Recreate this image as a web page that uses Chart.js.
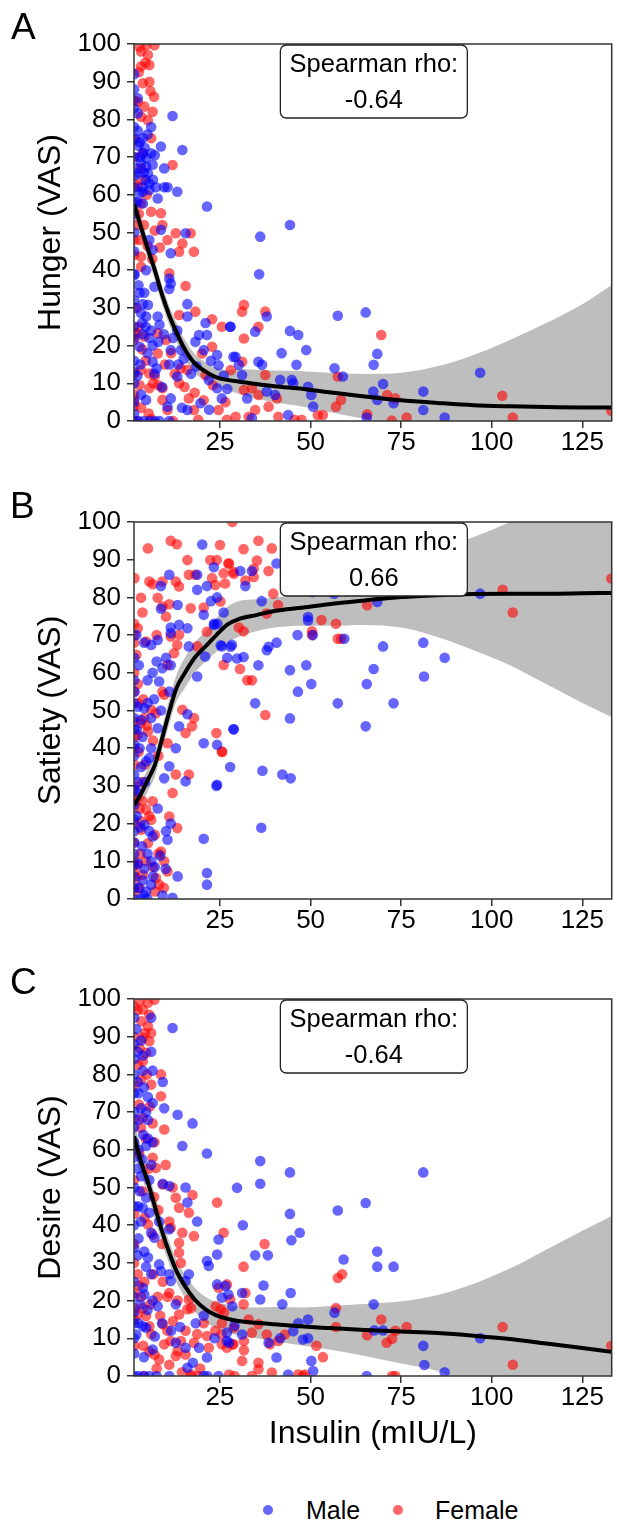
<!DOCTYPE html>
<html>
<head>
<meta charset="utf-8">
<script src="https://cdn.jsdelivr.net/npm/chart.js@4.4.1/dist/chart.umd.min.js"></script>
<style>
  body { margin: 0; background: #fff; font-family: "Liberation Sans", Arial, sans-serif; }
  #page { position: relative; width: 617px; height: 1523px; overflow: hidden; background: #fff; }
  canvas { position: absolute; left: 0; }
  .tag { position: absolute; font-size: 37px; line-height: 37px; color: #000; }
  .dot { position: absolute; width: 10px; height: 10px; border-radius: 50%; top: 1505px; }
  .lab { position: absolute; font-size: 25px; line-height: 30px; top: 1495px; color: #000; }
</style>
</head>
<body>
<div id="page">
  <canvas id="chartA" width="617" height="478" style="top:0px"></canvas>
  <canvas id="chartB" width="617" height="478" style="top:478px"></canvas>
  <canvas id="chartC" width="617" height="500" style="top:955px"></canvas>
  <div class="tag" style="left:11px;top:8px">A</div>
  <div class="tag" style="left:10px;top:487px">B</div>
  <div class="tag" style="left:10px;top:963px">C</div>
  <span class="dot" style="left:263px;background:rgba(0,0,255,0.6)"></span>
  <span class="lab" style="left:306px">Male</span>
  <span class="dot" style="left:393px;background:rgba(255,0,0,0.6)"></span>
  <span class="lab" style="left:435px">Female</span>
</div>
<script>
// x axis (insulin, mIU/L)
const insulinMin = 1.26;
const insulinMax = 133.1;
const insulinTicks = [25, 50, 75, 100, 125];

// points: [insulin, VAS]
const hungerMale = [
  [1.3,92],[1.3,88],[2.3,85.6],[11.9,80.9],[2.3,81.6],[6,78],[3.7,75],[2.3,77],[8.7,72.8],[14.6,71.9],
  [3.7,71],[4.6,69.8],[3.2,68.4],[6.4,68],[4.6,67.5],[9.6,67],[5.1,65.7],[2.3,65.7],[7.3,62],[9.6,62],
  [10.5,62],[13.2,60.8],[3.7,60.8],[5.5,61.3],[2.8,60.4],[7.8,59],[21.4,56.9],[3.7,57.7],[15.5,49.8],[8.7,50.7],
  [5.5,48],[6.4,45.4],[11.4,44.5],[4.6,40],[1.4,38.7],[11,37.8],[11.4,36.5],[11,35],[2.8,34],[4.1,34],
  [3.7,31],[5.1,30.8],[6.9,35.6],[3.2,28.6],[4.6,27.7],[16,31],[16,27.7],[7.8,27.7],[8.3,25.5],[21,26],
  [21.4,22.8],[19.2,22.8],[27.8,25],[13.2,24],[18.2,21],[3.7,23],[5.5,22],[6.4,20],[2.8,19.7],[11.4,18.8],
  [14.2,18.8],[20.5,18.8],[24.2,17.5],[24.6,14.8],[28.7,17],[6.4,15.7],[6.9,12.6],[11,15],[13.2,11.8],[21.9,10.9],
  [24.2,8.7],[25.5,6],[19.6,4.7],[16,2.9],[11.4,6],[10.5,3.8],[3.2,7],[4.6,5.6],[1.3,0],[2.5,0],
  [4,0],[5.5,0],[7,0],[8.3,0],[11,0],[1.3,70],[1.3,62],[1.3,55],[1.3,45],[1.3,30],[1.3,10],
  [1.3,83],[1.3,78],[1.3,75],[1.3,65],[1.3,58],[1.3,50],[1.3,39],[1.3,32],[1.3,25],[1.3,22],
  [1.3,16],[1.3,13],[1.3,5],[1.3,2],
  [2.5,73],[3,70],[4,66],[4.5,64],[5.5,63],[6.5,64],[2,67],[3.5,62],[2.2,58],[6,71],
  [7,70.5],[4.2,72.5],[2.8,74],[5,76],[2.5,36],[3.5,26],[4.5,25],[6,24],[5,18],[7.5,14],
  [3,15],[2.2,12],[8,21],[9.5,23],[12,22],[13.5,15],[15,16.5],[17,12.5],[18.5,14.5],[22.5,16],
  [26,12],[27,8.5],[22,3],[14.5,3.5],[9,9],
  [44.3,52],[36.1,48.9],[35.8,38.9],[57.5,27.9],[27.9,25],[37.9,27.7],[34.7,23.7],[44.3,23.9],[46.6,22.8],[48.8,18.8],
  [42,18],[29.3,17],[30.2,14.9],[35.6,15.7],[36.6,14.9],[46.1,14.9],[56.6,14],[58.9,11.8],[31.1,12.2],[41.6,10.9],
  [44.8,10.9],[45.2,10],[49.3,9.1],[50.2,6.9],[50.7,3.8],[37.9,7.8],[40.2,6.9],[32.5,6],[43.8,1.6],[33.8,0.7],
  [65.2,28.8],[68.4,17.8],[67.4,14.9],[70,9.8],[67.3,7.8],[68.4,5.6],[72.9,4.7],[81.1,7.8],[81.1,2.9],[87,0.9],
  [96.8,12.8],[65.5,0.9]
];
const hungerFemale = [
  [2.8,99.3],[4.6,99.7],[6.9,99.7],[3.2,98],[5.1,97.1],[3.2,94],[5.5,94.4],[3.7,89.6],[5.5,90],[2.3,84.7],
  [4.1,83.4],[6.4,82],[5.1,79.8],[3.2,80.7],[6,75],[11.9,67.9],[3.7,71],[3.2,67],[3.7,63.9],[2.3,62.2],
  [3.2,57.7],[6,55.5],[8.7,55.1],[9.1,52],[12.8,49.8],[16.9,49.8],[10.5,48],[14.6,47.1],[13.7,44.9],[17.8,44.9],
  [2.8,48],[3.2,43.6],[3.2,40.9],[11,39.2],[15.5,35.8],[18.2,29],[22.8,27],[25.5,25],[13.7,28.1],[1.9,23.3],
  [4.1,22.4],[7.8,23.3],[10.1,21.5],[7.8,17.9],[3.2,13.5],[5.5,12.6],[9.1,8.7],[5.5,8.7],[2.8,9.5],[16,13.5],
  [13.7,10],[20,17.9],[21,12.2],[24.6,2.9],[9.1,5.6],[10.5,2.9],[16.4,6],[17.8,2.9],[14.2,14],[22.8,19.7],
  [2,0],[6,0.5],[12,0],[19,0.3],[26.9,0.3],[1.3,74.5],[1.3,63],[1.3,48],[1.3,21.5],[1.3,12.6],[1.3,5.6],
  [1.3,85],[1.3,70],[1.3,44],[1.3,23],[1.3,7],[1.3,4],
  [2,30],[2.5,25],[3.5,19],[4.5,16],[6.5,10],[8,9.5],[3.2,3.5],[5.3,2],[7,12],[9.8,15],
  [12.5,12.5],[15.2,9],[18,7.5],[20.5,5.5],[23,9.5],[26.5,5],[28,13.5],[11.5,18],[4,52],[5,46.5],
  [6.3,43],[2,52],[2.6,55],[7,50.5],[8.4,46],[4.8,60],[6.8,86],[2.6,92.5],[4.4,95],[5.8,87.5],
  [31.6,30.8],[31.1,29],[37.5,29],[35.6,25],[31.6,21.9],[31.1,15.7],[37.5,12.2],[57.5,11.8],[31.6,8.2],[33.8,8.7],
  [35.6,6.9],[40.7,6],[38.4,3.8],[34.7,2.9],[32.9,1.1],[29.3,1.1],[41.1,1.1],[45.6,0.3],[47.5,0.3],[52,1.6],
  [53.4,1.6],[57,3.8],[58.4,5.6],[69.5,22.8],[71.1,6.9],[73.4,6],[65.6,1.8],[72.4,0.1],[76.5,0.9],[102.9,6.7],
  [105.8,0.9],[133,2.7]
];

const satietyMale = [
  [20.1,94],[11,86],[18.7,86],[23.3,88],[21.4,83],[18.7,82],[24.2,80],[8.7,83],[13.3,78],[8.7,77],
  [11.4,72],[13.7,72.7],[16,71.8],[11.4,70.5],[1.9,70],[4.1,68],[6,67.4],[7.8,68.7],[20.5,75.4],[23.3,72.7],
  [26,76],[28.3,67.4],[25.5,67],[16.4,67],[20.9,64.3],[10.1,64],[11.4,62],[9.1,61.2],[6.4,60],[8.2,57.7],
  [18.7,59],[1.4,55],[11,55],[2.3,51],[4.1,50.6],[3.2,47.5],[6,48],[8.7,50],[7.8,45.3],[16,49],
  [13.7,45.8],[28.7,45],[1.4,41],[6,40],[5.5,37.4],[4.6,36.5],[12.8,40],[20.5,41.3],[24.2,40.9],[27.8,35],
  [11,35.2],[9.6,32],[15.5,31.2],[24.2,30.3],[2.3,31],[1.9,28.5],[7.8,24],[11.4,20],[10.1,18],[10.5,15.7],
  [5.5,18],[6.4,16.6],[4.1,19.7],[20.5,16],[13.3,6],[21.4,6.9],[21.4,3.8],[3.7,5],[6,3.8],[4.6,2],
  [9.1,1],[11.9,0.3],[2.3,9.5],[4.1,8],[1.3,0],[3,0],[5,0],[1.3,64],[1.3,58],[1.3,45],
  [1.3,38],[1.3,25],[1.3,18],[1.3,12],[1.3,6],[1.3,52],[1.3,48],[1.3,33],[1.3,29],[1.3,21],
  [1.3,15],[1.3,9],[1.3,3],
  [2,22],[3,19],[3.5,14],[5,12],[6,10],[7,8.5],[2.5,3],[4,1],[6.5,6],[8.5,11.5],
  [10,8],[2,45],[2.8,40],[3.6,43],[5,52],[6.8,53],[4.3,31],[3.2,35],[7.5,63],[5,58],
  [2.6,62],
  [30.6,87],[32,83],[22.5,79],[33.8,87],[36.5,79],[23.4,73],[24.3,73],[25.2,67.3],[27.9,66.9],[29.7,63.8],
  [31.5,64.2],[27,64],[35.6,62],[37.9,66],[38.4,66.9],[40.6,68],[34.7,51.9],[28.8,45],[36.7,34],[42.2,33],
  [44.5,32],[24,30],[36.4,18.9],[44.3,60.7],[46.5,55],[44.3,47.9],[46.4,70],[40.6,89],
  [50.6,81.4],[56.5,81],[49.3,74.8],[49.3,73.9],[50.6,70],[59.3,69],[68.4,78.8],[48.8,62],[50.2,57],[67.4,61],
  [65.5,57],[70,67],[81.1,68],[81.3,59],[87,64],[57.5,51.9],[72.9,51.9],[65.2,45.8],[96.8,81]
];
const satietyFemale = [
  [5.1,93],[11.4,95],[13.1,94.1],[16,89.9],[25,93.9],[22.3,89.9],[24.1,89.9],[27.3,89],[1.4,85.1],[5.5,84.2],
  [6.4,83.5],[9.1,84.2],[12.8,84.2],[13.7,82.9],[16.4,86],[18.2,86],[3.2,79.9],[7.8,79.9],[11,78.2],[9.1,77.6],
  [10.1,74.9],[16.9,77.1],[20.5,77.3],[22.8,85.1],[23.7,83.3],[26,86.4],[28.7,86.8],[26.4,83.7],[25.1,78.9],[2.3,71.8],
  [4.6,68.3],[1.9,64.8],[11.4,69.6],[13.7,70.1],[13.2,67.4],[12.3,65.2],[18.7,67],[21.4,70.9],[26,62.1],[10.5,62.1],
  [9.1,55],[9.6,54.2],[2.3,51.9],[6,50.2],[7.3,49.3],[4.1,48],[14.6,50.2],[17.8,48],[17.3,45.8],[15.5,44],
  [3.2,46.6],[5.1,44.4],[2.3,43.6],[10.5,41.3],[24,44],[25.5,39.1],[4.1,35.6],[1.4,35.6],[12.8,33],[16.4,33],
  [11.9,28.1],[6.4,25.9],[4.6,23.7],[11,21.9],[13.2,18.8],[3.2,20.6],[3.2,18.4],[6,21],[5.1,14.8],[8.7,12.6],
  [9.6,10],[10.5,7.3],[2.3,9.1],[3.7,6.4],[7.3,5.6],[8.2,3.8],[1.9,5.6],[2.8,2.9],
  [1.3,73],[1.3,68],[1.3,60],[1.3,55],[1.3,47],[1.3,40],[1.3,30],[1.3,15],[1.3,10],[1.3,2],
  [1.3,70],[1.3,43],[1.3,26],[1.3,20],[1.3,7],
  [2,27],[2.8,24],[3.6,26],[5.5,22],[7,17],[8,12],[3,12],[4.5,10],[6.5,8.5],[7,2],
  [9.5,3],[2.3,57],[3.8,53],[4.8,46],[6.5,42],[8,38],[2.5,39],[3.5,31],[7.5,70],[3.6,76],
  [28.4,100],[31.5,92.8],[35.6,95],[35.2,89.8],[38.4,87],[32,84.5],[28.8,86.3],[27.5,89],[34.3,87.6],[34.3,85.4],
  [39.7,81],[39.3,93],[41,78],[30.2,72],[31.5,71],[30.5,61],[32.5,58],[33.8,58],[37.5,48.8],[25.6,39],
  [37.9,75.7],[53,74],[50.4,71],[50.4,70],[57,73],[57.5,69],[58.4,69],[65.6,77.9],[103,82],[105.8,76],
  [133,85]
];

const desireMale = [
  [6,95],[11.9,92.3],[1.9,92],[3.7,85],[6,86],[3.7,81],[6.4,81],[9.2,78],[2.3,78],[5.1,74],
  [6.4,72.4],[9.6,71],[13.3,69.3],[17.4,67],[14.6,61],[21.4,59],[3.2,71],[4.6,70],[5.1,67.9],[5.1,63],
  [4.6,61],[6.4,62],[6,56],[2.3,55],[3.2,53],[9.2,51],[11,50.4],[15.5,50],[16,46],[18.7,41],
  [2.8,49],[4.6,47.3],[3.7,44.6],[5.5,43.3],[8.2,41],[11,38.9],[6,38],[6.9,36.7],[24.6,36.2],[24.2,32.2],
  [21.4,30.5],[21.9,29.2],[4.1,33],[5.1,31.4],[2.3,32],[8.2,29.6],[8.7,27.8],[11,27],[16.4,27],[15.5,25.2],
  [3.7,23.4],[4.1,21.6],[11.4,25.2],[12.8,19],[24.2,24.3],[25.5,20.8],[27.3,21.6],[6.4,20],[7.8,18.5],[18.3,14],
  [20.5,16],[1.9,11],[4.6,12.8],[3.7,13.2],[6.4,7],[12.8,8.8],[15.5,7.5],[16,2.2],[21.4,4.9],[19.2,7.5],
  [26.9,11.5],[26.9,9.3],[1.3,0],[2.5,0],[4,0],[5.5,0],[7.5,0],[11,0],[20.5,0],[24.6,0],
  [21.5,0],[1.3,88],[1.3,84],[1.3,66],[1.3,58],[1.3,45],[1.3,40],[1.3,25],[1.3,17],[1.3,10],
  [1.3,6],[1.3,95],[1.3,80],[1.3,75],[1.3,70],[1.3,62],[1.3,50],[1.3,34],[1.3,21],[1.3,14],
  [2.2,86],[3.2,89],[2.5,75],[4,76.5],[2.6,68],[3.8,64],[2.5,60],[3.5,57.5],[5.5,52],[2.4,45],
  [3.2,41],[2.5,36.5],[4.6,29],[6,27],[3,19],[5,17.5],[2.5,14],[7,10.5],[4,5],[9,14],
  [11.5,12],[14,13],[17.5,3.5],[23.5,10],
  [29.7,49.9],[36.1,57],[36.1,51],[44.3,54],[31.3,40],[34.7,32],[38.2,32],[44.3,43],[44.7,36],[47,38],
  [37,24],[44.5,22],[42.2,19],[28.4,18.5],[31.1,22],[26.5,23.9],[36.1,20.3],[29,13.3],[27.5,8.8],[40.6,4.9],
  [47.9,9.7],[57.5,43.9],[59.1,30.9],[46.6,14],[49.3,15],[45.2,11.9],[49.3,10],[56.6,16.8],[31.1,11],[38.4,8.8],
  [41.6,10],[50.2,4],[50.7,1.3],[43.8,0.4],
  [65.2,45.9],[68.4,33],[68.4,29],[72.9,29],[81.1,54],[67.4,19],[67.6,12.1],[70,12.1],[81.1,8],[81.4,2.9],
  [87,1],[96.8,10],[65.5,0]
];
const desireFemale = [
  [2.8,99.4],[5.1,99],[6.9,99.8],[3.7,97.2],[5.5,95.8],[3.3,94.1],[5.1,92.8],[6,91],[3.7,89.7],[5.5,88.8],
  [2.8,87],[4.6,85.7],[3.7,83.5],[8.7,80],[6,77.3],[3.2,78.6],[8.7,74.2],[9.6,65.4],[3.7,68.5],[3.2,65.8],
  [6.4,67],[6.9,62],[6.4,57.9],[10,56],[7.3,55.2],[9.2,50.8],[11.9,50],[12.8,47.3],[17.4,48],[13.7,44.6],
  [16.4,43.3],[24.2,46],[14.6,38],[17.8,37.1],[13.7,35.3],[26,38],[11,41],[11.4,39.3],[5.1,40.2],[6.4,37.5],
  [13.7,32.7],[14.2,30],[2.3,27],[4.1,25],[9.2,25],[11,22],[7.8,21],[10.5,21],[13.3,20],[13.7,16.3],
  [16,17.7],[16.4,20.3],[17,18],[24.6,23.4],[26.9,24.3],[27.8,20.3],[3.7,18],[4.6,15.9],[2.3,16.3],[5.5,13.2],
  [6,11.1],[9.2,13.7],[9.6,8.4],[11.4,9.3],[13.3,6.6],[14.2,9.3],[18.7,11.1],[21.4,10.6],[23.7,12],[17.8,8.8],
  [21.9,7.5],[25.5,8.4],[11,3],[12.8,5.3],[15.5,5.7],[6.9,5.7],[8.2,4.4],[26.9,7.5],[28.7,8.4],[25.5,11],
  [25.5,14],[1.3,52],[1.3,35],[1.3,30],[1.3,15],[4,0],[17,0],[19,0],[29,0],
  [1.3,98],[1.3,90],[1.3,77],[1.3,68],[1.3,60],[1.3,43],[1.3,22],[1.3,18],[1.3,8],
  [2.2,97],[4.3,91],[2.4,82.5],[4.8,80],[5.6,71.5],[2.6,72],[4.5,63],[2.7,59],[5.2,55],[3.6,49],
  [6.8,47.5],[8,44],[4.2,42],[9,35],[2.6,24],[6.6,27],[3.2,21],[5.8,19],[8.5,16],[10.5,12],
  [12,14.5],[15.5,12],[3.8,8],[5.5,6.5],[7.5,2],[14.5,1],[20.5,14],[19.5,2],
  [37.3,35],[31.5,29],[32,22],[31.5,19],[23.8,18.5],[25.2,17.7],[26.1,16.8],[17,0.4],[27.5,0.4],[46.6,0.4],
  [48.4,0.4],[57.5,26],[58.7,27],[57,18],[57,13],[32.9,15],[33.8,11.5],[35.6,13.7],[28.8,12.8],[28.4,8.4],
  [31.6,9.3],[31.6,6.8],[31.1,4],[37.9,11],[38.8,8.4],[41.1,9.3],[42.9,11],[51.6,8],[53.4,5],[35.6,3.5],
  [35.6,1.8],[39.3,0.9],[47.9,0],[33.8,0],
  [69.5,15],[65.6,10.8],[73.4,12],[71,8.8],[72.5,9.9],[76.5,13],[103,13],[105.8,3],[133,8],[72.5,0],
  [73.4,0]
];

// smoothed fit and its confidence band, sampled at fitX
const fitX = [1.3, 3, 5, 7, 9, 11, 13, 15, 18, 21, 24, 27, 30, 35, 40, 48, 55, 65, 75, 85, 95, 105, 115, 125, 133];

const hungerFit = [57.5, 52, 45.8, 40, 33.5, 28, 23.5, 19.5, 15.3, 13.1, 11.6, 10.9, 10.5, 9.8, 9.2, 8.5, 7.6, 6.5, 5.5, 4.8, 4.2, 3.9, 3.7, 3.6, 3.6];
const hungerHi = [61, 55, 48.3, 42.5, 36, 30.5, 26, 22, 17.8, 15.6, 14.1, 13.5, 13.8, 13.6, 13.4, 13.2, 12.8, 12.5, 12.8, 14.5, 17.5, 21.5, 26, 31, 36];
const hungerLo = [54, 49, 43.3, 37.5, 31, 25.5, 21, 17, 12.8, 10.6, 9.1, 8.3, 7.2, 6, 5, 3.8, 2.4, 0.5, -1.8, -5, -9, -13.7, -18.6, -23.8, -28.8];

const satietyFit = [24.9, 27.5, 31.5, 35.5, 42.5, 49.7, 56, 59.5, 64, 67, 70, 72.8, 74.2, 75.3, 76.4, 77.3, 78.2, 79.2, 80.1, 80.6, 80.9, 81, 81, 81.1, 81.2];
const satietyHi = [28.5, 30.5, 34.5, 38.5, 45.5, 53, 59.5, 63.5, 68, 71, 74.5, 77.5, 79, 79.5, 80, 81, 82.5, 86, 89, 92.5, 96, 100, 105, 110, 114];
const satietyLo = [21.5, 24.5, 28.5, 32.5, 39.5, 46.5, 52.5, 55.5, 60, 63, 65.5, 68, 69.5, 71, 72, 72.5, 72.5, 72.7, 72, 69.5, 66, 62, 57, 52, 48.3];

const desireFit = [63.6, 57.4, 51.7, 45, 38.4, 32.7, 27.8, 24.3, 20.3, 17.7, 16.1, 15.2, 14.6, 14.1, 13.7, 13.1, 12.7, 12.2, 11.8, 11.4, 10.7, 9.8, 8.6, 7.4, 6.4];
const desireHi = [67.5, 61, 55, 48.3, 41.5, 35.7, 30.8, 27.3, 23.5, 21, 19.6, 18.9, 18.4, 18.2, 18.3, 18.2, 18.6, 19.1, 19.8, 21.5, 24.5, 28.5, 33.5, 38.5, 42.4];
const desireLo = [59.7, 53.8, 48.4, 41.7, 35.3, 29.7, 24.8, 21.3, 17.1, 14.4, 12.6, 11.5, 10.8, 10, 9.2, 8, 7, 5.3, 3.3, 1.3, -3, -9, -16, -23, -29];

const FONT = '"Liberation Sans", Arial, sans-serif';

function toPoints(pairs) {
    return pairs.map(p => ({ x: p[0], y: p[1] }));
}

function curve(ys) {
    return fitX.map((x, i) => ({ x: x, y: ys[i] }));
}

// frame round the plot + the white "Spearman rho" box
const panelDecor = {
    id: 'panelDecor',
    afterDatasetsDraw(chart, args, opts) {
        const ctx = chart.ctx;
        const a = chart.chartArea;
        ctx.save();
        ctx.strokeStyle = '#333';
        ctx.lineWidth = 1.5;
        ctx.strokeRect(a.left, a.top, a.right - a.left, a.bottom - a.top);

        const w = 187, h = 73, r = 6;
        const cx = (a.left + a.right) / 2 + 1;
        const x0 = cx - w / 2, y0 = a.top + 1;
        ctx.beginPath();
        ctx.moveTo(x0 + r, y0);
        ctx.arcTo(x0 + w, y0, x0 + w, y0 + h, r);
        ctx.arcTo(x0 + w, y0 + h, x0, y0 + h, r);
        ctx.arcTo(x0, y0 + h, x0, y0, r);
        ctx.arcTo(x0, y0, x0 + w, y0, r);
        ctx.closePath();
        ctx.fillStyle = '#fff';
        ctx.fill();
        ctx.lineWidth = 1.3;
        ctx.strokeStyle = '#222';
        ctx.stroke();

        ctx.fillStyle = '#000';
        ctx.font = '25.5px ' + FONT;
        ctx.textAlign = 'center';
        ctx.textBaseline = 'middle';
        ctx.fillText('Spearman rho:', cx, y0 + 19.5);
        ctx.fillText(opts.rho, cx, y0 + 56);
        ctx.restore();
    }
};

function makePanel(canvasId, male, female, fit, lo, hi, rho, yTitle, xTitle) {
    const ctx = document.getElementById(canvasId).getContext('2d');
    const xAxisHeight = xTitle ? 79 : 57;

    return new Chart(ctx, {
        type: 'scatter',
        data: {
            datasets: [
                {
                    label: 'fit',
                    data: curve(fit),
                    showLine: true,
                    borderColor: '#000',
                    borderWidth: 4,
                    pointRadius: 0,
                    cubicInterpolationMode: 'monotone',
                    clip: 0
                },
                {
                    label: 'Male',
                    data: toPoints(male),
                    backgroundColor: 'rgba(0, 0, 255, 0.6)',
                    borderWidth: 0,
                    pointRadius: 5.3,
                    clip: 0
                },
                {
                    label: 'Female',
                    data: toPoints(female),
                    backgroundColor: 'rgba(255, 0, 0, 0.6)',
                    borderWidth: 0,
                    pointRadius: 5.3,
                    clip: 0
                },
                {
                    label: 'upper',
                    data: curve(hi),
                    showLine: true,
                    borderWidth: 0,
                    pointRadius: 0,
                    cubicInterpolationMode: 'monotone',
                    fill: false,
                    clip: 0
                },
                {
                    label: 'lower',
                    data: curve(lo),
                    showLine: true,
                    borderWidth: 0,
                    pointRadius: 0,
                    cubicInterpolationMode: 'monotone',
                    backgroundColor: '#bebebe',
                    fill: '-1',
                    clip: 0
                }
            ]
        },
        options: {
            responsive: false,
            animation: false,
            events: [],
            layout: { padding: { top: 44, left: 0, right: 0, bottom: 0 } },
            plugins: {
                legend: { display: false },
                tooltip: { enabled: false },
                panelDecor: { rho: rho }
            },
            scales: {
                x: {
                    type: 'linear',
                    min: insulinMin,
                    max: insulinMax,
                    afterBuildTicks: axis => { axis.ticks = insulinTicks.map(v => ({ value: v })); },
                    afterFit: axis => { axis.height = xAxisHeight; },
                    grid: { drawOnChartArea: false, drawTicks: true, tickLength: 7, color: '#333', lineWidth: 1.5 },
                    border: { display: false },
                    ticks: { color: '#000', padding: 2, maxRotation: 0, font: { size: 26, lineHeight: 1 } },
                    title: {
                        display: !!xTitle,
                        text: xTitle || '',
                        color: '#000',
                        font: { size: 32 },
                        padding: { top: 0, bottom: 2 }
                    }
                },
                y: {
                    min: 0,
                    max: 100,
                    afterFit: axis => { axis.width = 134; },
                    grid: { drawOnChartArea: false, drawTicks: true, tickLength: 7, color: '#333', lineWidth: 1.5 },
                    border: { display: false },
                    ticks: { stepSize: 10, color: '#000', padding: 6, font: { size: 26, lineHeight: 1 } },
                    title: {
                        display: true,
                        text: yTitle,
                        color: '#000',
                        font: { size: 32 },
                        padding: { top: 32, bottom: 0 }
                    }
                }
            }
        },
        plugins: [panelDecor]
    });
}

document.addEventListener('DOMContentLoaded', function() {
    Chart.defaults.font.family = FONT;
    Chart.defaults.color = '#000';

    makePanel('chartA', hungerMale, hungerFemale, hungerFit, hungerLo, hungerHi, '-0.64', 'Hunger (VAS)', null);
    makePanel('chartB', satietyMale, satietyFemale, satietyFit, satietyLo, satietyHi, '0.66', 'Satiety (VAS)', null);
    makePanel('chartC', desireMale, desireFemale, desireFit, desireLo, desireHi, '-0.64', 'Desire (VAS)', 'Insulin (mIU/L)');
});
</script>
</body>
</html>
